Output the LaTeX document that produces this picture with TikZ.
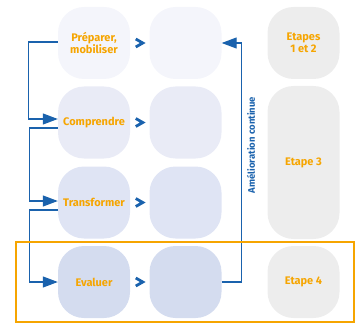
\documentclass[tikz,border=0pt]{standalone}
\usepackage{fontspec}
\setmainfont{Fira Sans}
\usetikzlibrary{arrows.meta,calc}
\definecolor{rowA}{HTML}{F4F5FB}
\definecolor{rowB}{HTML}{E9EBF6}
\definecolor{rowC}{HTML}{DFE4F4}
\definecolor{rowD}{HTML}{D4DCEF}
\definecolor{graybox}{HTML}{EDEDED}
\definecolor{orangeT}{HTML}{F6A500}
\definecolor{blueL}{HTML}{1A62AD}
\tikzset{
  x=1pt,y=1pt,
  box/.style={minimum width=72pt,minimum height=72pt,rounded corners=26pt,inner sep=0pt,align=center,
    font=\bfseries\fontsize{11}{12.5}\selectfont,text=orangeT},
  conn/.style={draw=blueL,line width=1.2pt,-{Triangle[length=15pt,width=11pt]}},
  chev/.style={draw=blueL,line width=2.8pt},
  frame/.style={draw=orangeT,line width=2pt}
}
\begin{document}
\begin{tikzpicture}
\useasboundingbox (0,0) rectangle (355,-323);
% column 1
\node[box,fill=rowA] (prep) at (94,-43) {Préparer,\\mobiliser};
\node[box,fill=rowB] (comp) at (94,-122.5) {Comprendre};
\node[box,fill=rowC] (trans) at (94,-202.5) {Transformer};
\node[box,fill=rowD] (eval) at (94,-282) {Evaluer};
% column 2
\node[box,fill=rowA] (prepb) at (185.5,-43) {};
\node[box,fill=rowB] (compb) at (185.5,-122.5) {};
\node[box,fill=rowC] (transb) at (185.5,-202.5) {};
\node[box,fill=rowD] (evalb) at (185.5,-282) {};
% column 3
\node[box,fill=graybox] (et12) at (303.5,-43) {Etapes\\1 et 2};
\node[box,fill=graybox,minimum height=153pt] (et3) at (303.5,-162.5) {Etape 3};
\node[box,fill=graybox] (et4) at (303.5,-282) {Etape 4};
% chevrons
\foreach \a/\b in {prep/prepb,comp/compb,trans/transb,eval/evalb}{
  \coordinate (m) at ($(\a.east)!0.5!(\b.west)$);
  \draw[chev] ($(m)+(-4,4)$) -- ($(m)+(3,0)$) -- ($(m)+(-4,-4)$);
}
% left connectors
\draw[conn] ([yshift=1pt]prep.west) -- ++(-29,0) |- ([yshift=3.5pt]comp.west);
\draw[conn] ([yshift=-5.5pt]comp.west) -- ++(-28,0) |- ([yshift=1.5pt]trans.west);
\draw[conn] ([yshift=-7.5pt]trans.west) -- ++(-28,0) |- (eval.west);
% feedback loop
\draw[conn] (evalb.east) -- ++(20,0) |- (prepb.east);
\node[rotate=90,text=blueL,font=\bfseries\fontsize{9.5}{11}\selectfont] (amel) at (251,-145) {Amélioration continue};
% frame
\draw[frame] (15.5,-242) rectangle (353.5,-321.5);
\end{tikzpicture}
\end{document}
